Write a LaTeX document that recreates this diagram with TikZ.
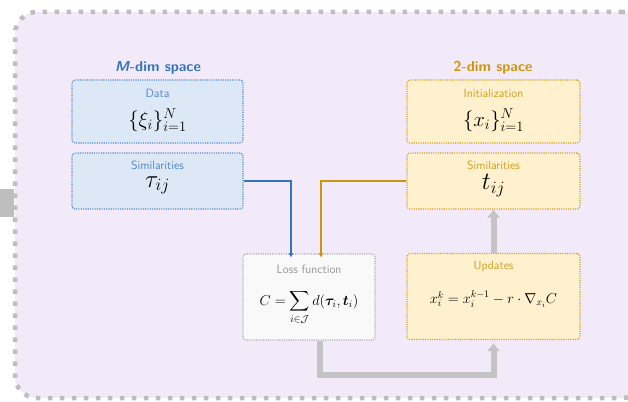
\documentclass[tikz,border=0pt]{standalone}
\usepackage{amsmath,amssymb,bm,tikz}
\usetikzlibrary{arrows.meta,positioning,calc}
\definecolor{panelpurple}{RGB}{242,234,248}
\definecolor{framegray}{RGB}{190,190,190}
\definecolor{flowgray}{RGB}{196,196,196}
\definecolor{mblue}{RGB}{52,115,190}
\definecolor{mbluefill}{RGB}{221,232,246}
\definecolor{tgold}{RGB}{204,150,10}
\definecolor{tgoldfill}{RGB}{255,241,205}
\definecolor{lossgray}{RGB}{150,150,150}
\definecolor{lossfill}{RGB}{249,249,249}
\tikzset{box/.style={rounded corners=3pt,inner sep=0pt,line width=1.1pt,dash pattern=on 1.1pt off 1.2pt},mbox/.style={box,draw=mblue!85,fill=mbluefill,minimum width=171pt},tbox/.style={box,draw=tgold!90,fill=tgoldfill,minimum width=173pt},lbox/.style={box,draw=lossgray!80,fill=lossfill,minimum width=132pt},lab/.style={font=\sffamily\large,inner sep=0pt},formula/.style={inner sep=0pt},title/.style={font=\sffamily\bfseries\Large},edge/.style={-{Latex[length=4pt,width=5pt]},line width=1.6pt},flow/.style={-{Latex[length=8pt,width=14pt]},line width=6pt,draw=flowgray}}

\begin{document}
\begin{tikzpicture}[x=1pt,y=-1pt]
\useasboundingbox (0,0) rectangle (628,401);
\node[draw=framegray,fill=panelpurple,rounded corners=22pt,line width=4.5pt,dash pattern=on 4.5pt off 7.5pt,minimum width=630pt,minimum height=386pt] (frame) at (330,205) {};
\coordinate (prev) at (0,203);
\draw[line width=28pt,draw=framegray] (prev)--(14,203);
\node[title,text=mblue] (mtitle) at (158,68) {\textit{M}-dim space};
\node[title,text=tgold] (ttitle) at (493,68) {2-dim space};
% boxes
\node[mbox,minimum height=63pt] (data) at (157.5,111.5) {};
\node[mbox,minimum height=56pt] (msim) at (157.5,181) {};
\node[tbox,minimum height=63pt] (init) at (493.5,111.5) {};
\node[tbox,minimum height=56pt] (tsim) at (493.5,181) {};
\node[lbox,minimum height=86pt] (loss) at (309,297) {};
\node[tbox,minimum height=86pt] (upd) at (493.5,296.5) {};
% labels and formulas
\node[lab,text=mblue!85] (datalab) at ($(data.north)+(0,14)$) {Data};
\node[formula] (datamath) at ($(data.north)+(0,41)$) {\fontsize{21}{24}\selectfont$\{\xi_i\}_{i=1}^{N}$};
\node[lab,text=mblue!85] (msimlab) at ($(msim.north)+(0,13)$) {Similarities};
\node[formula] (msimmath) at ($(msim.north)+(0,33)$) {\fontsize{24}{26}\selectfont$\tau_{ij}$};
\node[lab,text=tgold!90] (initlab) at ($(init.north)+(0,14)$) {Initialization};
\node[formula] (initmath) at ($(init.north)+(0,41)$) {\fontsize{21}{24}\selectfont$\{x_i\}_{i=1}^{N}$};
\node[lab,text=tgold!90] (tsimlab) at ($(tsim.north)+(0,13)$) {Similarities};
\node[formula] (tsimmath) at ($(tsim.north)+(0,33)$) {\fontsize{24}{26}\selectfont$t_{ij}$};
\node[lab,text=lossgray] (losslab) at ($(loss.north)+(0,16)$) {Loss function};
\node[formula] (lossmath) at ($(loss.north)+(0,54)$) {\fontsize{14}{16}\selectfont$C=\displaystyle\sum_{i\in\mathcal{J}}d(\bm{\tau}_i,\bm{t}_i)$};
\node[lab,text=tgold!90] (updlab) at ($(upd.north)+(0,14)$) {Updates};
\node[formula] (updmath) at ($(upd.north)+(0,46)$) {\fontsize{14}{16}\selectfont$x_i^k=x_i^{k-1}-r\cdot\nabla_{x_i}C$};
% connectors
\draw[edge,draw=mblue] (msim.east)-|([xshift=-18pt,yshift=-4pt]loss.north);
\draw[edge,draw=tgold] (tsim.west)-|([xshift=12pt,yshift=-4pt]loss.north);
\draw[flow] (upd.north)--(tsim.south);
\draw[flow,shorten >=3pt] ([xshift=11pt]loss.south)--++(0,34)-|(upd.south);
\end{tikzpicture}
\end{document}
